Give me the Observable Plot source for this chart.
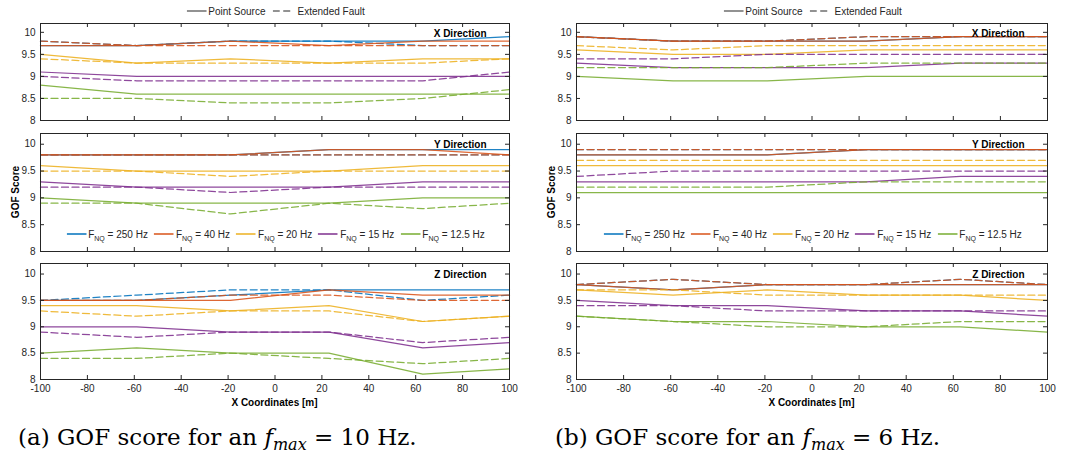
<!DOCTYPE html>
<html><head><meta charset="utf-8">
<script src="https://cdn.jsdelivr.net/npm/d3@7"></script>
<script src="https://cdn.jsdelivr.net/npm/@observablehq/plot@0.6"></script>
<style>
body{margin:0;background:#fff;}
#root{position:relative;width:1072px;height:453px;overflow:hidden;font-family:"Liberation Sans",Arial,sans-serif;color:#262626;background:#fff;}
.toplegend{position:absolute;top:4px;height:14px;display:flex;align-items:center;font-size:10px;white-space:nowrap;transform:translateX(-50%);}
.toplegend svg{display:block;}
.flegend{position:absolute;height:14px;display:flex;align-items:center;font-size:10px;white-space:nowrap;transform:translate(-50%,-50%);}
.flegend .item{display:flex;align-items:center;margin-right:6px;}
.flegend .item:last-child{margin-right:0;}
.flegend sub{font-size:7px;vertical-align:-3px;line-height:0;}
.ylab{position:absolute;font-size:10px;font-weight:bold;color:#000;white-space:nowrap;transform:translate(-50%,-50%) rotate(-90deg);}
.xlab{position:absolute;font-size:10px;font-weight:bold;color:#000;white-space:nowrap;transform:translate(-50%,-50%);}
.caption{position:absolute;font-family:"DejaVu Serif","Liberation Serif",serif;font-size:23px;color:#000;white-space:nowrap;transform:translateY(-50%);}
.caption sub{font-size:16px;vertical-align:-5px;line-height:0;}
</style></head><body><div id="root"></div>
<script>
// ---------------- data ----------------
const xCoords = [-100, -59, -19, 23, 63, 100];
const freqs = ["250", "40", "20", "15", "12.5"];
const directions = ["X Direction", "Y Direction", "Z Direction"];
const sources = ["Point Source", "Extended Fault"];
const xTicks = [-100, -80, -60, -40, -20, 0, 20, 40, 60, 80, 100];
const yTicks = [8, 8.5, 9, 9.5, 10];
const xTitle = "X Coordinates [m]";
const yTitle = "GOF Score";
const captionTags = ["(a)", "(b)"];
const captionHz = ["10", "6"];

// rows follow freqs: 250, 40, 20, 15, 12.5 Hz ; columns follow xCoords
// (a) f_max = 10 Hz
const f10_X_point = [
  [9.7, 9.7, 9.8, 9.8, 9.8, 9.9],
  [9.7, 9.7, 9.8, 9.7, 9.8, 9.8],
  [9.5, 9.3, 9.4, 9.3, 9.4, 9.4],
  [9.1, 9.0, 9.0, 9.0, 9.0, 9.0],
  [8.8, 8.6, 8.6, 8.6, 8.6, 8.6]];
const f10_X_fault = [
  [9.8, 9.7, 9.8, 9.8, 9.7, 9.7],
  [9.8, 9.7, 9.7, 9.7, 9.7, 9.7],
  [9.4, 9.3, 9.3, 9.3, 9.3, 9.4],
  [9.0, 8.9, 8.9, 8.9, 8.9, 9.1],
  [8.5, 8.5, 8.4, 8.4, 8.5, 8.7]];
const f10_Y_point = [
  [9.8, 9.8, 9.8, 9.9, 9.9, 9.9],
  [9.8, 9.8, 9.8, 9.9, 9.9, 9.8],
  [9.6, 9.5, 9.5, 9.5, 9.6, 9.6],
  [9.3, 9.2, 9.2, 9.2, 9.3, 9.3],
  [9.0, 8.9, 8.9, 8.9, 9.0, 9.0]];
const f10_Y_fault = [
  [9.8, 9.8, 9.8, 9.8, 9.8, 9.8],
  [9.8, 9.8, 9.8, 9.8, 9.8, 9.8],
  [9.5, 9.5, 9.4, 9.5, 9.5, 9.5],
  [9.2, 9.2, 9.1, 9.2, 9.2, 9.2],
  [8.9, 8.9, 8.7, 8.9, 8.8, 8.9]];
const f10_Z_point = [
  [9.5, 9.5, 9.6, 9.7, 9.7, 9.7],
  [9.5, 9.5, 9.5, 9.7, 9.6, 9.6],
  [9.4, 9.4, 9.3, 9.4, 9.1, 9.2],
  [9.0, 9.0, 8.9, 8.9, 8.6, 8.7],
  [8.5, 8.6, 8.5, 8.5, 8.1, 8.2]];
const f10_Z_fault = [
  [9.5, 9.6, 9.7, 9.7, 9.5, 9.6],
  [9.5, 9.5, 9.6, 9.6, 9.5, 9.5],
  [9.3, 9.2, 9.3, 9.3, 9.1, 9.2],
  [8.9, 8.8, 8.9, 8.9, 8.7, 8.8],
  [8.4, 8.4, 8.5, 8.4, 8.3, 8.4]];
// (b) f_max = 6 Hz
const f6_X_point = [
  [9.9, 9.8, 9.8, 9.8, 9.9, 9.9],
  [9.9, 9.8, 9.8, 9.8, 9.9, 9.9],
  [9.6, 9.5, 9.5, 9.6, 9.6, 9.6],
  [9.3, 9.2, 9.2, 9.2, 9.3, 9.3],
  [9.0, 8.9, 8.9, 9.0, 9.0, 9.0]];
const f6_X_fault = [
  [9.9, 9.8, 9.8, 9.9, 9.9, 9.9],
  [9.9, 9.8, 9.8, 9.9, 9.9, 9.9],
  [9.7, 9.6, 9.7, 9.7, 9.7, 9.7],
  [9.4, 9.4, 9.5, 9.5, 9.5, 9.5],
  [9.2, 9.2, 9.2, 9.3, 9.3, 9.3]];
const f6_Y_point = [
  [9.8, 9.8, 9.8, 9.9, 9.9, 9.9],
  [9.8, 9.8, 9.8, 9.9, 9.9, 9.9],
  [9.6, 9.6, 9.6, 9.6, 9.6, 9.6],
  [9.3, 9.3, 9.3, 9.3, 9.4, 9.4],
  [9.1, 9.1, 9.1, 9.1, 9.1, 9.1]];
const f6_Y_fault = [
  [9.9, 9.9, 9.9, 9.9, 9.9, 9.9],
  [9.9, 9.9, 9.9, 9.9, 9.9, 9.9],
  [9.7, 9.7, 9.7, 9.7, 9.7, 9.7],
  [9.4, 9.5, 9.5, 9.5, 9.5, 9.5],
  [9.2, 9.2, 9.2, 9.3, 9.3, 9.3]];
const f6_Z_point = [
  [9.8, 9.7, 9.8, 9.8, 9.8, 9.8],
  [9.8, 9.7, 9.8, 9.8, 9.8, 9.8],
  [9.7, 9.6, 9.7, 9.6, 9.6, 9.5],
  [9.5, 9.4, 9.4, 9.3, 9.3, 9.2],
  [9.2, 9.1, 9.1, 9.0, 9.0, 8.9]];
const f6_Z_fault = [
  [9.8, 9.9, 9.8, 9.8, 9.9, 9.8],
  [9.8, 9.9, 9.8, 9.8, 9.9, 9.8],
  [9.7, 9.7, 9.6, 9.6, 9.6, 9.6],
  [9.4, 9.4, 9.3, 9.3, 9.3, 9.3],
  [9.2, 9.1, 9.0, 9.0, 9.1, 9.1]];

// ---------------- layout / style ----------------
const colors = ["#0072BD", "#D95319", "#EDB120", "#7E2F8E", "#77AC30"];
const axisColor = "#262626";
const dash = "7,3.5";
const lineW = 1.25;
const colLeft = [0, 536];
const colWidth = [540, 536];
const mLeft = 40;
const mRight = [31, 25];
const rowTop = [23, 133, 263];
const rowH = [97, 118, 116];
const yDomain = [8, 10.2];
const xDomain = [-100, 100];

const panels = [
  [[f10_X_point, f10_X_fault], [f10_Y_point, f10_Y_fault], [f10_Z_point, f10_Z_fault]],
  [[f6_X_point, f6_X_fault], [f6_Y_point, f6_Y_fault], [f6_Z_point, f6_Z_fault]]
];

const root = document.getElementById("root");
const fmt = d => String(d);

for (let c = 0; c < 2; c++) {
  const innerW = colWidth[c] - mLeft - mRight[c];
  for (let r = 0; r < 3; r++) {
    const [pt, ef] = panels[c][r];
    const innerH = rowH[r];
    const mT = 6, mB = r === 2 ? 20 : 6;
    const pxX = innerW / (xDomain[1] - xDomain[0]);
    const pxY = innerH / (yDomain[1] - yDomain[0]);
    const tl = 4;
    const marks = [];
    for (let i = 0; i < freqs.length; i++) {
      for (const [arr, dashed] of [[pt, false], [ef, true]]) {
        const series = xCoords.map((x, j) => ({x, v: arr[i][j]}));
        marks.push(Plot.line(series, {x: "x", y: "v", stroke: colors[i], strokeWidth: lineW,
          strokeDasharray: dashed ? dash : null, strokeOpacity: 0.88}));
      }
    }
    marks.push(
      Plot.ruleX(xTicks, {x: d => d, y1: yDomain[0], y2: yDomain[0] + tl / pxY, stroke: axisColor}),
      Plot.ruleX(xTicks, {x: d => d, y1: yDomain[1], y2: yDomain[1] - tl / pxY, stroke: axisColor}),
      Plot.ruleY(yTicks, {y: d => d, x1: xDomain[0], x2: xDomain[0] + tl / pxX, stroke: axisColor}),
      Plot.ruleY(yTicks, {y: d => d, x1: xDomain[1], x2: xDomain[1] - tl / pxX, stroke: axisColor}),
      Plot.frame({stroke: axisColor, strokeWidth: 1}),
      Plot.axisY(yTicks, {tickSize: 0, tickPadding: 5, tickFormat: fmt, fontSize: 10, fill: axisColor, label: null}),
      Plot.text([directions[r]], {x: xDomain[1], y: yTicks[yTicks.length - 1], dx: -23, dy: 1,
        textAnchor: "end", fontWeight: "bold", fontSize: 10, fill: "#000"})
    );
    if (r === 2) {
      marks.push(Plot.axisX(xTicks, {tickSize: 0, tickPadding: 5, tickFormat: fmt, fontSize: 10, fill: axisColor, label: null}));
    }
    const svg = Plot.plot({
      width: colWidth[c],
      height: innerH + mT + mB,
      marginLeft: mLeft, marginRight: mRight[c], marginTop: mT, marginBottom: mB,
      x: {domain: xDomain, label: null, axis: r === 2 ? undefined : null},
      y: {domain: yDomain, label: null},
      style: {fontFamily: '"Liberation Sans", Arial, sans-serif', fontSize: "10px", color: axisColor, background: "transparent", overflow: "visible"},
      marks
    });
    svg.style.position = "absolute";
    svg.style.left = colLeft[c] + "px";
    svg.style.top = (rowTop[r] - mT) + "px";
    root.appendChild(svg);
  }

  const cx = colLeft[c] + mLeft + innerW / 2;

  // top legend: line styles
  const tlg = document.createElement("div");
  tlg.className = "toplegend";
  tlg.style.left = (cx + 1) + "px";
  tlg.innerHTML =
    `<svg width="20" height="6"><line x1="0" y1="3" x2="20" y2="3" stroke="${axisColor}" stroke-width="1.2"/></svg>` +
    `<span style="margin-left:2px;margin-right:7px">${sources[0]}</span>` +
    `<svg width="20" height="6"><line x1="0" y1="3" x2="20" y2="3" stroke="${axisColor}" stroke-width="1.2" stroke-dasharray="${dash}"/></svg>` +
    `<span style="margin-left:5px">${sources[1]}</span>`;
  root.appendChild(tlg);

  // frequency legend inside the Y panel
  const flg = document.createElement("div");
  flg.className = "flegend";
  flg.style.left = (cx + 1) + "px";
  flg.style.top = "234px";
  flg.innerHTML = freqs.map((f, i) =>
    `<div class="item"><svg width="20" height="6"><line x1="0" y1="3" x2="20" y2="3" stroke="${colors[i]}" stroke-width="1.3"/></svg>` +
    `<span style="margin-left:2px">F<sub>NQ</sub> = ${f} Hz</span></div>`).join("");
  root.appendChild(flg);

  // y title
  const yl = document.createElement("div");
  yl.className = "ylab";
  yl.style.left = (colLeft[c] + 15) + "px";
  yl.style.top = "192px";
  yl.textContent = yTitle;
  root.appendChild(yl);

  // x title
  const xl = document.createElement("div");
  xl.className = "xlab";
  xl.style.left = cx + "px";
  xl.style.top = "402px";
  xl.textContent = xTitle;
  root.appendChild(xl);

  // caption
  const cap = document.createElement("div");
  cap.className = "caption";
  cap.style.left = (c === 0 ? 18 : 555) + "px";
  cap.style.top = "437px";
  cap.innerHTML = `${captionTags[c]} GOF score for an <i>f</i><sub><i>max</i></sub> = ${captionHz[c]} Hz.`;
  root.appendChild(cap);
}
</script></body></html>
